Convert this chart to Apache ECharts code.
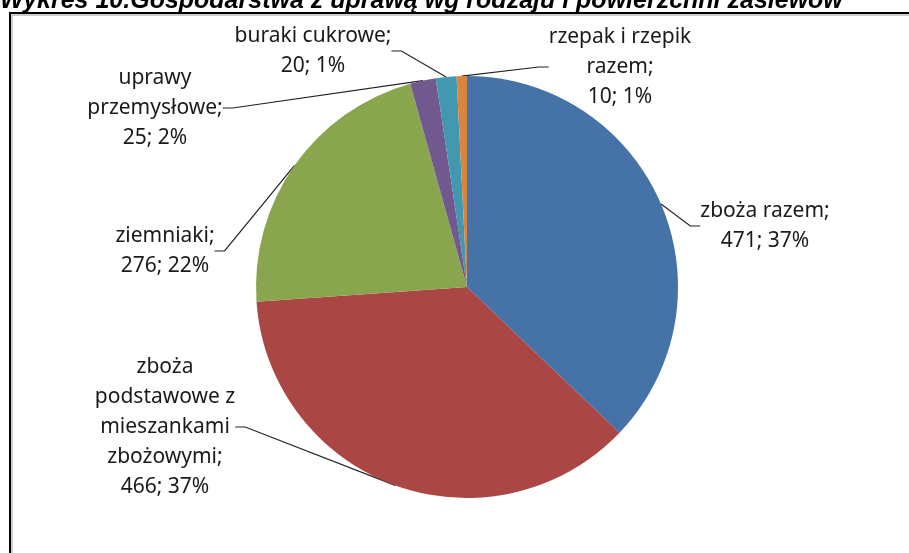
<!DOCTYPE html>
<html>
<head>
<meta charset="utf-8">
<script src="https://cdn.jsdelivr.net/npm/echarts@6/dist/echarts.min.js"></script>
<style>
  html, body { margin: 0; padding: 0; background: #fff; }
  #chart { width: 909px; height: 553px; }
</style>
</head>
<body>
<div id="chart"></div>
<script>
// data
var names = ['zboża razem', 'zboża\npodstawowe z\nmieszankami\nzbożowymi', 'ziemniaki', 'uprawy\nprzemysłowe', 'buraki cukrowe', 'rzepak i rzepik\nrazem'];
var values = [471, 466, 276, 25, 20, 10];
var percents = ['37%', '37%', '22%', '2%', '1%', '1%'];
var colors = ['#4572A7', '#AA4643', '#89A54E', '#71588F', '#4198AF', '#DB843D'];

// where the labels sit (centre of text block)
var labelPos = [[765, 226], [165, 427], [165, 251], [155, 108], [313, 51], [620, 67]];

var data = [];
for (var i = 0; i < names.length; i++) {
    data.push({ name: names[i], value: values[i], itemStyle: { color: colors[i] } });
}

var chart = echarts.init(document.getElementById('chart'));
chart.setOption({
    animation: false,
    graphic: [
        {
            type: 'text', left: 0, top: -11,
            style: { text: 'Wykres 10.Gospodarstwa z uprawą wg rodzaju i powierzchni zasiewów', font: 'italic bold 25px "Liberation Sans", Arial', fill: '#000' }
        },
        {
            type: 'rect', shape: { x: 10, y: 13, width: 920, height: 560 },
            style: { fill: 'none', stroke: '#000', lineWidth: 2 }
        },
        {
            type: 'rect', shape: { x: 12, y: 15, width: 920, height: 560 },
            style: { fill: 'none', stroke: '#999', lineWidth: 1 }
        }
    ],
    series: [
        {
            type: 'pie',
            center: [467, 287],
            radius: 211,
            startAngle: 90,
            clockwise: true,
            data: data,
            emphasis: { disabled: true },
            label: {
                show: true,
                fontFamily: '"Noto Sans"',
                fontSize: 21,
                lineHeight: 30,
                color: '#1a1a1a',
                align: 'center',
                formatter: function (p) {
                    return p.name + ';\n' + p.value + '; ' + percents[p.dataIndex];
                }
            },
            labelLine: { show: true, length: 10, length2: 10, lineStyle: { color: '#222', width: 1.2 } },
            labelLayout: function (p) {
                var pos = labelPos[p.dataIndex];
                return { x: pos[0], y: pos[1], align: 'center', verticalAlign: 'middle' };
            }
        }
    ]
});
</script>
</body>
</html>
